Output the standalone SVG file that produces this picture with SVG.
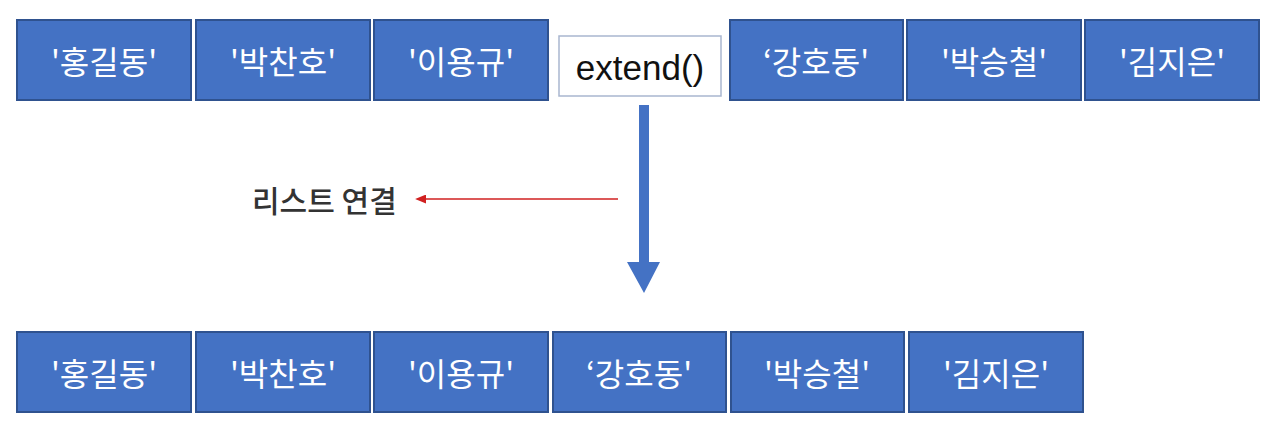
<svg xmlns="http://www.w3.org/2000/svg" width="1272" height="440" viewBox="0 0 1272 440">
<style>
.b{fill:#4472C4;stroke:#2F528F;stroke-width:2}
.t{fill:#fff;font-family:"Noto Sans CJK KR","Noto Sans",sans-serif;font-size:32px;text-anchor:middle;dominant-baseline:central}
.e{fill:#fff;stroke:#A9B6CF;stroke-width:1.5}
.et{fill:#111;font-family:"Liberation Sans",Arial,sans-serif;font-size:35px;text-anchor:middle;dominant-baseline:central}
.lbl{fill:#333;font-family:"Noto Sans CJK KR",sans-serif;font-size:30px;font-weight:500;dominant-baseline:central}
</style>
<defs>
<marker id="ra" viewBox="0 0 10 10" refX="1" refY="5" markerWidth="11" markerHeight="9" orient="auto-start-reverse" markerUnits="userSpaceOnUse" preserveAspectRatio="none">
<path d="M0,0 L10,5 L0,10 z" fill="#D02020"/>
</marker>
</defs>
<rect width="1272" height="440" fill="#fff"/>
<g id="top1"><rect class="b" x="17" y="20" width="174" height="80"/><text class="t" x="104" y="60">'홍길동'</text></g>
<g id="top2"><rect class="b" x="196" y="20" width="174" height="80"/><text class="t" x="283" y="60">'박찬호'</text></g>
<g id="top3"><rect class="b" x="374" y="20" width="174" height="80"/><text class="t" x="461" y="60">'이용규'</text></g>
<g id="extend"><rect class="e" x="559" y="36" width="162" height="60"/><text class="et" x="640" y="67">extend()</text></g>
<g id="top4"><rect class="b" x="730" y="20" width="173" height="80"/><text class="t" x="816" y="60">‘강호동'</text></g>
<g id="top5"><rect class="b" x="907" y="20" width="174" height="80"/><text class="t" x="994" y="60">'박승철'</text></g>
<g id="top6"><rect class="b" x="1085" y="20" width="174" height="80"/><text class="t" x="1172" y="60">'김지은'</text></g>
<g id="bot1"><rect class="b" x="17" y="332" width="174" height="80"/><text class="t" x="104" y="372">'홍길동'</text></g>
<g id="bot2"><rect class="b" x="196" y="332" width="174" height="80"/><text class="t" x="283" y="372">'박찬호'</text></g>
<g id="bot3"><rect class="b" x="374" y="332" width="174" height="80"/><text class="t" x="461" y="372">'이용규'</text></g>
<g id="bot4"><rect class="b" x="553" y="332" width="173" height="80"/><text class="t" x="639" y="372">‘강호동'</text></g>
<g id="bot5"><rect class="b" x="731" y="332" width="173" height="80"/><text class="t" x="817" y="372">'박승철'</text></g>
<g id="bot6"><rect class="b" x="909" y="332" width="174" height="80"/><text class="t" x="996" y="372">'김지은'</text></g>
<g id="label"><text class="lbl" x="252" y="199">리스트 연결</text></g>
<g id="connectors">
<path d="M639,105 H649 V262 H660 L644,293 L627,262 H639 Z" fill="#4472C4"/>
<line x1="618" y1="199" x2="425" y2="199" stroke="#D02020" stroke-width="1.5" marker-end="url(#ra)"/>
</g>
</svg>
